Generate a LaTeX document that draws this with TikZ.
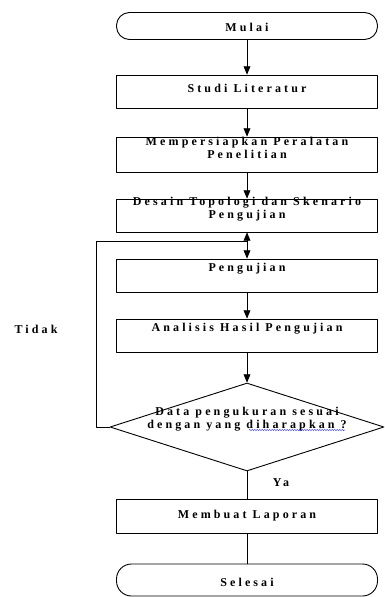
\documentclass[tikz,border=0pt]{standalone}
\usepackage{fontspec}
\newfontfamily\flowfont[LetterSpace=26]{Liberation Serif}
\usetikzlibrary{arrows,shapes.geometric,decorations.pathmorphing}

\begin{document}
\begin{tikzpicture}[line cap=round,line join=round,>=triangle 45,x=1pt,y=-1pt,
    every node/.style={font=\flowfont\bfseries\fontsize{12}{13}\selectfont},
    proses/.style={draw,line width=0.9pt,minimum width=261pt,minimum height=33pt,inner sep=0pt},
    terminal/.style={proses,rounded corners=13pt,minimum height=27pt},
    keputusan/.style={draw,diamond,line width=0.9pt,minimum width=274pt,minimum height=88pt,inner sep=0pt},
    teks/.style={inner sep=0pt,align=center},
    alur/.style={line width=0.9pt}]
    \useasboundingbox (0,0) rectangle (384,597);
    % kotak alur
    \node[terminal] (mulai) at (247,26) {};
    \node[proses] (studi) at (247,91.5) {};
    \node[proses,minimum height=35pt] (siap) at (247,154.5) {};
    \node[proses] (desain) at (247,215.5) {};
    \node[proses] (uji) at (247,275.5) {};
    \node[proses] (analisis) at (247,335.5) {};
    \node[keputusan] (cek) at (247,427) {};
    \node[proses,minimum height=34pt] (laporan) at (247,516) {};
    \node[terminal,minimum height=32pt,rounded corners=15pt] (selesai) at (247,580) {};
    % teks
    \node[teks] (mulaiT) at (247,27) {Mulai};
    \node[teks] (studiT) at (247,88) {Studi Literatur};
    \node[teks] (siapT) at (247,147.5) {Mempersiapkan Peralatan\\Penelitian};
    \node[teks] (desainT) at (247,209.5) {Desain Topologi dan Skenario\\Pengujian};
    \node[teks] (ujiT) at (247,269) {Pengujian};
    \node[teks] (analisisT) at (247,329) {Analisis Hasil Pengujian};
    \node[teks] (cekT) at (247,419) {Data pengukuran sesuai\\dengan yang diharapkan ?};
    \node[teks] (laporanT) at (247,516) {Membuat Laporan};
    \node[teks] (selesaiT) at (247,582) {Selesai};
    \node[teks] (tidak) at (36,329) {Tidak};
    \node[teks] (ya) at (281,483) {Ya};
    % garis
    \draw [alur,->] (mulai) -- (studi);
    \draw [alur,->] (studi) -- (siap);
    \draw [alur,->] (siap) -- (desain);
    \draw [alur,<->] (desain) -- (uji);
    \draw [alur,->] (uji) -- (analisis);
    \draw [alur,->] (analisis) -- (cek);
    \coordinate (balik1) at (96,427);
    \coordinate (balik2) at (96,241);
    \coordinate (balik3) at (247,241);
    \draw [alur] (cek.west) -- (balik1) -- (balik2) -- (balik3);
    \draw [alur] (cek.south) -- (laporan.north);
    \draw [alur] (laporan.south) -- (selesai.north);
    \draw [blue,line width=0.4pt,decorate,decoration={snake,amplitude=0.6pt,segment length=2.5pt}] (249,430) -- (345,430);
\end{tikzpicture}
\end{document}
